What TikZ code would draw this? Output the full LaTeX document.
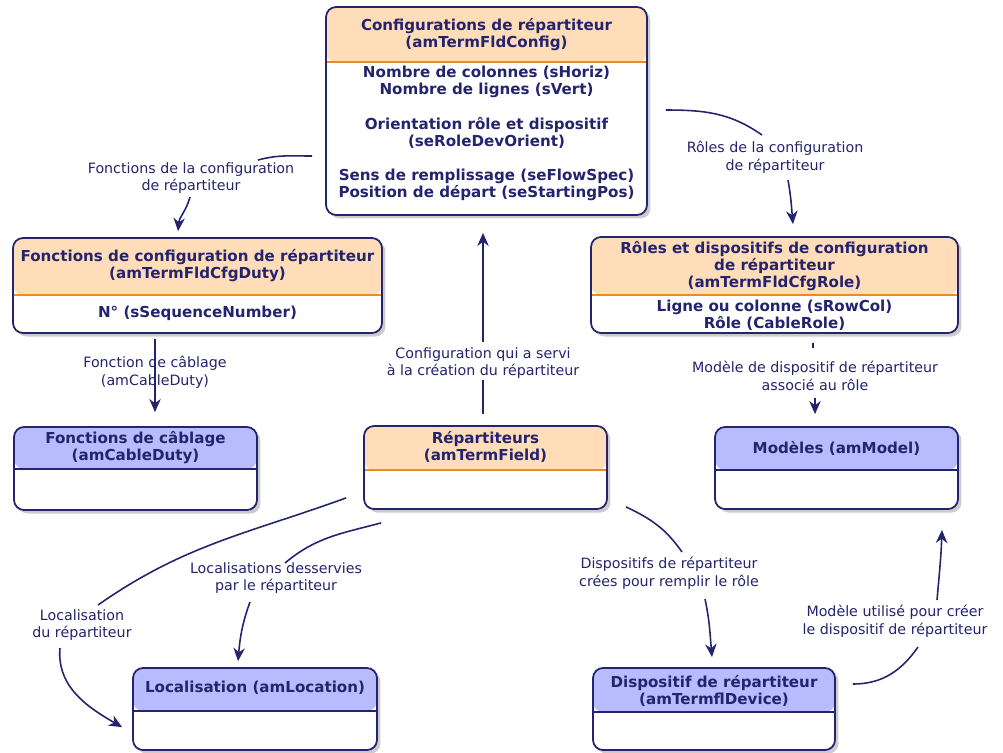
\documentclass[tikz,border=0pt]{standalone}
\usepackage{fontspec}
\setmainfont{DejaVu Sans}
\usetikzlibrary{arrows.meta,shadows}

\definecolor{navy}{HTML}{23236E}
\definecolor{hdrorange}{HTML}{FFDDB9}
\definecolor{lineorange}{HTML}{EE8A22}
\definecolor{hdrblue}{HTML}{B9BBFF}

\tikzset{
  entity/.style={draw=navy, line width=1pt, fill=white, rounded corners=0.2cm,
    drop shadow={shadow xshift=0.07cm, shadow yshift=-0.07cm, fill=black!40, opacity=0.5}},
  orangehead/.style={entity, path picture={
    \fill[hdrorange] (path picture bounding box.north west) rectangle ([yshift=-#1]path picture bounding box.north east);
    \draw[lineorange, line width=1pt] ([yshift=-#1]path picture bounding box.north west) -- ([yshift=-#1]path picture bounding box.north east);}},
  bluehead/.style={entity, path picture={
    \fill[hdrblue] (path picture bounding box.north west) rectangle ([yshift=-#1]path picture bounding box.north east);
    \draw[navy, line width=1pt] ([yshift=-#1]path picture bounding box.north west) -- ([yshift=-#1]path picture bounding box.north east);}},
  title/.style={font=\bfseries\fontsize{8.6}{9.7}\selectfont, text=navy, align=center, inner sep=1pt},
  field/.style={title},
  rel/.style={font=\fontsize{8.1}{10}\selectfont, text=navy, align=center, inner sep=1pt},
  link/.style={draw=navy, line width=0.9pt},
  arrow/.style={link, -{Stealth[length=7.5pt,width=6.5pt]}}
}

\begin{document}
\begin{tikzpicture}[x=0.02cm, y=-0.02cm]
  \useasboundingbox (0,0) rectangle (1003,752);

  % tables
  \node[orangehead=1.1cm, minimum width=6.42cm, minimum height=4.16cm] (cfg) at (486.5,111) {};
  \node[title] (cfgT) at (486.5,35) {Configurations de répartiteur\\(amTermFldConfig)};
  \node[field] (cfgB) at (486.5,133.5) {Nombre de colonnes (sHoriz)\\Nombre de lignes (sVert)\\[10pt]
    Orientation rôle et dispositif\\(seRoleDevOrient)\\[10pt]
    Sens de remplissage (seFlowSpec)\\Position de départ (seStartingPos)};

  \node[orangehead=1.14cm, minimum width=7.38cm, minimum height=1.9cm] (duty) at (197.5,285.5) {};
  \node[title] (dutyT) at (197.5,266) {Fonctions de configuration de répartiteur\\(amTermFldCfgDuty)};
  \node[field] (dutyB) at (197.5,313) {N° (sSequenceNumber)};

  \node[orangehead=1.16cm, minimum width=7.34cm, minimum height=1.92cm] (role) at (774.5,285) {};
  \node[title] (roleT) at (774.5,266) {Rôles et dispositifs de configuration\\de répartiteur\\(amTermFldCfgRole)};
  \node[field] (roleB) at (774.5,315) {Ligne ou colonne (sRowCol)\\Rôle (CableRole)};

  \node[bluehead=0.84cm, minimum width=4.86cm, minimum height=1.66cm] (cable) at (135.5,468.5) {};
  \node[title] (cableT) at (135.5,448) {Fonctions de câblage\\(amCableDuty)};

  \node[orangehead=0.88cm, minimum width=4.86cm, minimum height=1.66cm] (term) at (485.5,467.5) {};
  \node[title] (termT) at (485.5,447) {Répartiteurs\\(amTermField)};

  \node[bluehead=0.86cm, minimum width=4.86cm, minimum height=1.64cm] (model) at (836.5,468) {};
  \node[title] (modelT) at (836.5,448) {Modèles (amModel)};

  \node[bluehead=0.86cm, minimum width=4.88cm, minimum height=1.64cm] (loc) at (255,709) {};
  \node[title] (locT) at (255,688) {Localisation (amLocation)};

  \node[bluehead=0.88cm, minimum width=4.84cm, minimum height=1.64cm] (dev) at (714,709) {};
  \node[title] (devT) at (714,691) {Dispositif de répartiteur\\(amTermflDevice)};

  % link labels
  \node[rel] (lblFn) at (191,178) {Fonctions de la configuration\\de répartiteur};
  \node[rel] (lblRoles) at (775,157) {Rôles de la configuration\\de répartiteur};
  \node[rel] (lblModel) at (815,376) {Modèle de dispositif de répartiteur\\associé au rôle};
  \node[rel] (lblConf) at (483,363) {Configuration qui a servi\\à la création du répartiteur};
  \node[rel] (lblCable) at (155,372) {Fonction de câblage\\(amCableDuty)};
  \node[rel] (lblLoc) at (82,625) {Localisation\\du répartiteur};
  \node[rel] (lblServ) at (276,578) {Localisations desservies\\par le répartiteur};
  \node[rel] (lblDev) at (669,573) {Dispositifs de répartiteur\\crées pour remplir le rôle};
  \node[rel] (lblUse) at (895,621) {Modèle utilisé pour créer\\le dispositif de répartiteur};

  % links
  \draw[link] ([shift={(-13,45)}]cfg.west) to[out=180,in=15] ([shift={(67,-18)}]lblFn.center);
  \draw[arrow] ([shift={(-1,19)}]lblFn.center) to[out=-105,in=85] ([shift={(-19.5,-6)}]duty.north);

  \draw[link] ([shift={(18,-1)}]cfg.east) to[out=0,in=145] ([shift={(-13,-22)}]lblRoles.center);
  \draw[arrow] ([shift={(13,23)}]lblRoles.center) to[out=-80,in=95] ([shift={(18.5,-12)}]role.north);

  \draw[link] ([shift={(38.5,9)}]role.south) -- ([shift={(-2,-28)}]lblModel.center);
  \draw[arrow] ([shift={(0,22)}]lblModel.center) -- ([shift={(-21.5,-12)}]model.north);

  \draw[link] ([shift={(-2.5,-11)}]term.north) -- ([shift={(0,17)}]lblConf.center);
  \draw[arrow] ([shift={(0,-21)}]lblConf.center) -- ([shift={(-3.5,17)}]cfg.south);

  \draw[arrow] ([shift={(-42.5,5)}]duty.south) -- ([shift={(19.5,-14)}]cable.north);

  \draw[link] ([shift={(-17,-12)}]term.south west) to[out=200,in=35] ([shift={(16,-20)}]lblLoc.center);
  \draw[arrow] ([shift={(-22,23)}]lblLoc.center) to[out=-95,in=150] ([shift={(-10,60)}]loc.north west);

  \draw[link] ([shift={(18,13)}]term.south west) to[out=195,in=40] ([shift={(9,-15)}]lblServ.center);
  \draw[arrow] ([shift={(-26,24)}]lblServ.center) to[out=-110,in=85] ([shift={(-17,-6)}]loc.north);

  \draw[link] ([shift={(18,-3)}]term.south east) to[out=-25,in=125] ([shift={(13,-21)}]lblDev.center);
  \draw[arrow] ([shift={(36,26)}]lblDev.center) to[out=-78,in=95] ([shift={(-2,-10)}]dev.north);

  \draw[link] ([shift={(17,-25)}]dev.east) to[out=0,in=-125] ([shift={(23,26)}]lblUse.center);
  \draw[arrow] ([shift={(42,-21)}]lblUse.center) to[out=85,in=-92] ([shift={(105.5,20)}]model.south);
\end{tikzpicture}
\end{document}
